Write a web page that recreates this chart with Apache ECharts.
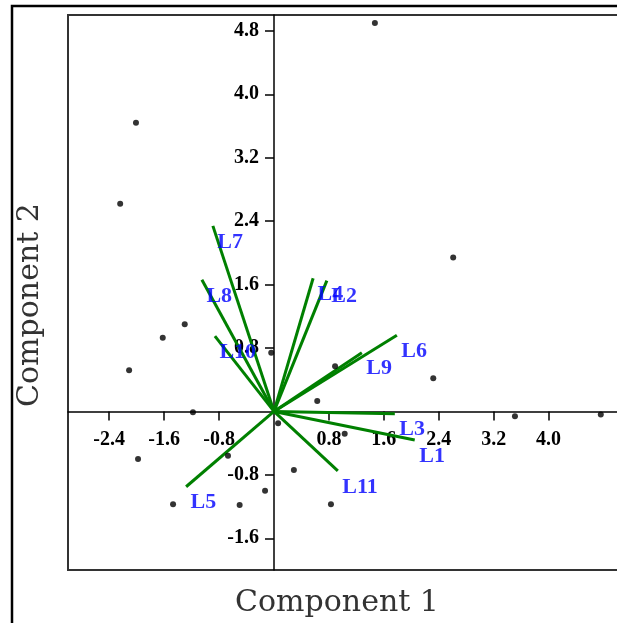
<!DOCTYPE html>
<html>
<head>
<meta charset="utf-8">
<script src="https://cdn.jsdelivr.net/npm/echarts@6.0.0/dist/echarts.min.js"></script>
<style>
  html, body { margin: 0; padding: 0; background: #fff; }
  #chart { width: 617px; height: 623px; }
</style>
</head>
<body>
<div id="chart"></div>
<script>
  // scores (component 1, component 2)
  var scoreX = [1.47, -2.01, -2.24, 2.61, -1.30, -1.62, -2.11, -0.04, 0.89, 2.32, 0.63, -1.18,
                3.51, 4.76, -1.98, -0.67, 0.06, 0.29, -0.13, -1.47, -0.50, 0.83, 1.03];
  var scoreY = [4.90, 3.64, 2.62, 1.94, 1.10, 0.93, 0.52, 0.74, 0.57, 0.42, 0.13, -0.01,
                -0.06, -0.04, -0.60, -0.56, -0.15, -0.74, -1.00, -1.17, -1.18, -1.17, -0.28];

  // loadings
  var loadNames = ['L1', 'L2', 'L3', 'L4', 'L5', 'L6', 'L7', 'L8', 'L9', 'L10', 'L11'];
  var loadX = [2.05, 0.77, 1.76, 0.57, -1.28, 1.79, -0.89, -1.05, 1.28, -0.86, 0.93];
  var loadY = [-0.36, 1.65, -0.03, 1.68, -0.95, 0.96, 2.34, 1.66, 0.74, 0.95, -0.75];

  // tick labels
  var xTicks = [-2.4, -1.6, -0.8, 0.8, 1.6, 2.4, 3.2, 4.0];
  var yTicks = [-1.6, -0.8, 0.8, 1.6, 2.4, 3.2, 4.0, 4.8];

  var xMin = -3.0, xMax = 5.2, yMin = -2.0, yMax = 5.0;
  var gridLeft = 68, gridTop = 15, gridW = 563, gridH = 555;
  // move the axes from the grid edges onto the zero lines
  var xOffset = -gridH * (0 - yMin) / (yMax - yMin);
  var yOffset = -gridW * (0 - xMin) / (xMax - xMin);

  var tickFont = {
    color: '#000',
    fontFamily: 'Liberation Serif',
    fontWeight: 'bold',
    fontSize: 20
  };

  var chart = echarts.init(document.getElementById('chart'));

  var series = [];
  // vectors from the origin
  for (var i = 0; i < loadNames.length; i++) {
    series.push({
      type: 'line',
      data: [[0, 0], [loadX[i], loadY[i]]],
      symbol: 'none',
      silent: true,
      z: 2,
      lineStyle: { color: '#008000', width: 3 }
    });
  }
  // score points
  var pts = [];
  for (var j = 0; j < scoreX.length; j++) pts.push([scoreX[j], scoreY[j]]);
  series.push({
    type: 'scatter',
    data: pts,
    symbol: 'circle',
    symbolSize: 6,
    z: 3,
    itemStyle: { color: '#000' }
  });
  // vector labels
  var labs = [];
  for (var k = 0; k < loadNames.length; k++) {
    labs.push({ name: loadNames[k], value: [loadX[k], loadY[k]] });
  }
  series.push({
    type: 'scatter',
    data: labs,
    symbolSize: 1,
    z: 4,
    itemStyle: { color: 'rgba(0,0,0,0)' },
    label: {
      show: true,
      position: 'right',
      distance: 4,
      offset: [0, 16],
      formatter: '{b}',
      color: '#0000ff',
      fontFamily: 'Liberation Serif',
      fontWeight: 'bold',
      fontSize: 22
    }
  });

  var option = {
    animation: false,
    backgroundColor: '#fff',
    grid: {
      left: gridLeft,
      top: gridTop,
      width: gridW,
      height: gridH,
      show: true,
      borderColor: '#333',
      borderWidth: 2,
      outerBoundsMode: 'none'
    },
    xAxis: {
      type: 'value',
      min: xMin,
      max: xMax,
      position: 'bottom',
      offset: xOffset,
      axisLine: { onZero: false, lineStyle: { color: '#000', width: 1.5 } },
      splitLine: { show: false },
      axisTick: { customValues: xTicks, length: 9, lineStyle: { color: '#000', width: 1.5 } },
      axisLabel: Object.assign({
        customValues: xTicks,
        margin: 18,
        formatter: function (v) { return v.toFixed(1); }
      }, tickFont)
    },
    yAxis: {
      type: 'value',
      min: yMin,
      max: yMax,
      position: 'left',
      offset: yOffset,
      axisLine: { onZero: false, lineStyle: { color: '#000', width: 1.5 } },
      splitLine: { show: false },
      axisTick: { customValues: yTicks, length: 9, lineStyle: { color: '#000', width: 1.5 } },
      axisLabel: Object.assign({
        customValues: yTicks,
        margin: 15,
        formatter: function (v) { return v.toFixed(1); }
      }, tickFont)
    },
    graphic: [
      {
        type: 'rect',
        shape: { x: 12, y: 6, width: 700, height: 700 },
        style: { fill: 'none', stroke: '#000', lineWidth: 2.5 },
        silent: true
      },
      {
        type: 'text',
        x: 337,
        y: 603,
        style: {
          text: 'Component 1',
          fontFamily: 'DejaVu Serif',
          fontSize: 30,
          fill: '#333',
          align: 'center',
          verticalAlign: 'middle'
        }
      },
      {
        type: 'text',
        x: 30,
        y: 305,
        rotation: Math.PI / 2,
        style: {
          text: 'Component 2',
          fontFamily: 'DejaVu Serif',
          fontSize: 30,
          fill: '#333',
          align: 'center',
          verticalAlign: 'middle'
        }
      }
    ],
    series: series
  };

  chart.setOption(option);
</script>
</body>
</html>
